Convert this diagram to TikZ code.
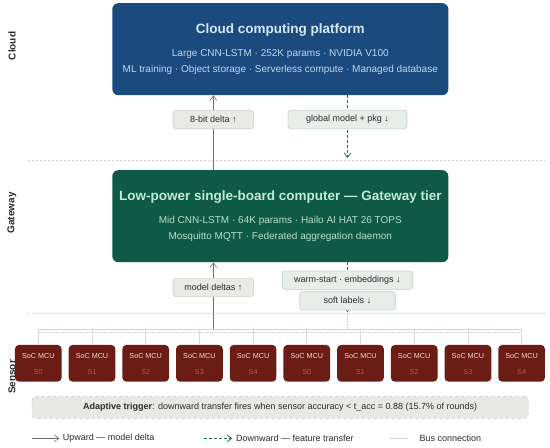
\documentclass[tikz,border=0pt]{standalone}
\usepackage{fontspec}
\setmainfont{Liberation Sans}
\usetikzlibrary{arrows.meta,positioning}
\definecolor{cloudblue}{HTML}{1B4A7F}
\definecolor{cloudtitle}{HTML}{D8E8F7}
\definecolor{cloudsub}{HTML}{C0D6EC}
\definecolor{gwgreen}{HTML}{0E5A46}
\definecolor{gwtitle}{HTML}{C2EBD6}
\definecolor{gwsub}{HTML}{B8DDCB}
\definecolor{mcured}{HTML}{6B1C15}
\definecolor{mcutext}{HTML}{F2DCD8}
\definecolor{mcuid}{HTML}{B35A50}
\definecolor{uparrow}{HTML}{6E6E6E}
\definecolor{dnarrow}{HTML}{1F6E58}
\definecolor{lblfill}{HTML}{E9E9E5}
\definecolor{lblline}{HTML}{D0D0CC}
\definecolor{glblfill}{HTML}{E8EDE9}
\definecolor{glblline}{HTML}{C6DCD1}
\definecolor{sepline}{HTML}{D0D0D0}
\definecolor{busline}{HTML}{D8D8D8}
\definecolor{busdotted}{HTML}{C6D8D4}
\definecolor{trigfill}{HTML}{E8E8E5}
\definecolor{trigline}{HTML}{B8B8B8}
\definecolor{inktext}{HTML}{2B2B2B}
\newcommand{\tiertitle}{\fontsize{13.5}{16}\selectfont\bfseries}

\begin{document}
\begin{tikzpicture}[x=1pt,y=1pt,
tier/.style={rounded corners=6pt,align=center,minimum width=336pt,
  minimum height=92pt,inner sep=0pt,font=\fontsize{10}{16.7}\selectfont},
lbl/.style={draw=lblline,fill=lblfill,solid,rounded corners=3pt,minimum height=18.5pt,
  inner sep=2pt,text=inktext,font=\fontsize{9}{10}\selectfont},
glbl/.style={lbl,draw=glblline,fill=glblfill},
mcu/.style={fill=mcured,rounded corners=4pt,minimum width=46.7pt,minimum height=36.7pt,
  inner sep=0pt},
tierlbl/.style={rotate=90,font=\fontsize{10}{12}\selectfont\bfseries,text=inktext},
legend/.style={anchor=west,inner sep=0pt,text=inktext,font=\fontsize{9}{10}\selectfont},
uparr/.style={-{Straight Barb[length=1.6mm,width=2.4mm]},semithick,draw=uparrow},
dnarr/.style={-{Straight Barb[length=1.6mm,width=2.4mm]},thick,draw=dnarrow,
  dash pattern=on 3pt off 2pt},
sep/.style={draw=sepline,dash pattern=on 2pt off 2pt,thin},
bus/.style={draw=busline,thick},
busdot/.style={draw=busdotted,dash pattern=on 1.5pt off 1.5pt,thin}]
\useasboundingbox (0,0) rectangle (550,448);
% tier labels
\node[tierlbl] (lcloud) at (12,402) {Cloud};
\node[tierlbl] (lgw) at (12,235) {Gateway};
\node[tierlbl] (lsensor) at (12,71) {Sensor};
% separators
\draw[sep] (28,288) -- (545,288);
\draw[sep] (28,134.5) -- (545,134.5);
% tiers
\node[tier,fill=cloudblue,text=cloudsub] (cloud) at (280.3,398.8)
  {{\tiertitle\color{cloudtitle}Cloud computing platform}\\[6pt]
   Large CNN-LSTM · 252K params · NVIDIA V100\\
   ML training · Object storage · Serverless compute · Managed database};
\node[tier,fill=gwgreen,text=gwsub] (gw) at (280.3,231.8)
  {{\tiertitle\color{gwtitle}Low-power single-board computer — Gateway tier}\\[6.3pt]
   Mid CNN-LSTM · 64K params · Hailo AI HAT 26 TOPS\\
   Mosquitto MQTT · Federated aggregation daemon};
% sensors
\foreach \i in {0,...,9}{
  \pgfmathtruncatemacro{\sid}{mod(\i,5)}
  \node[mcu] (mcu\i) at (38.3+53.7*\i,84.7) {};
  \node[text=mcutext,font=\fontsize{7.2}{8}\selectfont] (mcun\i) at ([yshift=7.3pt]mcu\i.center) {SoC MCU};
  \node[text=mcuid,font=\fontsize{7.2}{8}\selectfont] (mcus\i) at ([yshift=-8.4pt]mcu\i.center) {S\sid};
}
% bus
\coordinate (busy) at (0,118.5);
\coordinate (busdy) at (0,115.5);
\draw[bus] (mcu0.north |- busy) -- (mcu9.north |- busy);
\draw[busdot] (mcu0.north |- busdy) -- (mcu9.north |- busdy);
\foreach \i in {0,...,9}{\draw[bus] (mcu\i.north |- busy) -- (mcu\i.north);}
% upward path
\coordinate (upsrc) at (213.3,118.5);
\draw[uparr] (upsrc) -- node[lbl,minimum width=80.6pt,pos=.627] (lbldelta) {model deltas ↑} (upsrc |- gw.south);
\draw[uparr] (upsrc |- gw.north) -- node[lbl,minimum width=80.6pt,pos=.677] (lblbit) {8-bit delta ↑} (upsrc |- cloud.south);
% downward path
\coordinate (dnend) at (347.5,135.7);
\coordinate (dnmid) at (347.5,290);
\draw[dnarr] (dnmid |- cloud.south) -- node[glbl,minimum width=119pt,pos=.384] (lblglob) {global model + pkg ↓} (dnmid);
\draw[dnarr] (dnend |- gw.south) -- node[glbl,minimum width=130pt,pos=.358] (lblwarm) {warm-start · embeddings ↓}
  node[glbl,minimum width=95.7pt,pos=.77] (lblsoft) {soft labels ↓} (dnend);
\draw[busdot] (dnend) -- (dnend |- busy);
% trigger
\node[draw=trigline,fill=trigfill,dashed,rounded corners=4pt,minimum width=496.5pt,
  minimum height=21.7pt,text=inktext,font=\fontsize{9}{10}\selectfont] (trig) at (280.2,40.5)
  {\textbf{Adaptive trigger}: downward transfer fires when sensor accuracy < t\_acc = 0.88 (15.7\% of rounds)};
% legend
\coordinate (lga) at (31.7,9.7); \coordinate (lgb) at (59.3,9.7);
\coordinate (lgc) at (204,9.7); \coordinate (lgd) at (232.3,9.7);
\coordinate (lge) at (389.3,9.7); \coordinate (lgf) at (408.3,9.7);
\draw[uparr] (lga) -- (lgb);
\node[legend] (lgup) at (62.7,9.7) {Upward — model delta};
\draw[dnarr] (lgc) -- (lgd);
\node[legend] (lgdn) at (236,9.7) {Downward — feature transfer};
\draw[bus] (lge) -- (lgf);
\node[legend] (lgbus) at (419.3,9.7) {Bus connection};
\end{tikzpicture}
\end{document}
